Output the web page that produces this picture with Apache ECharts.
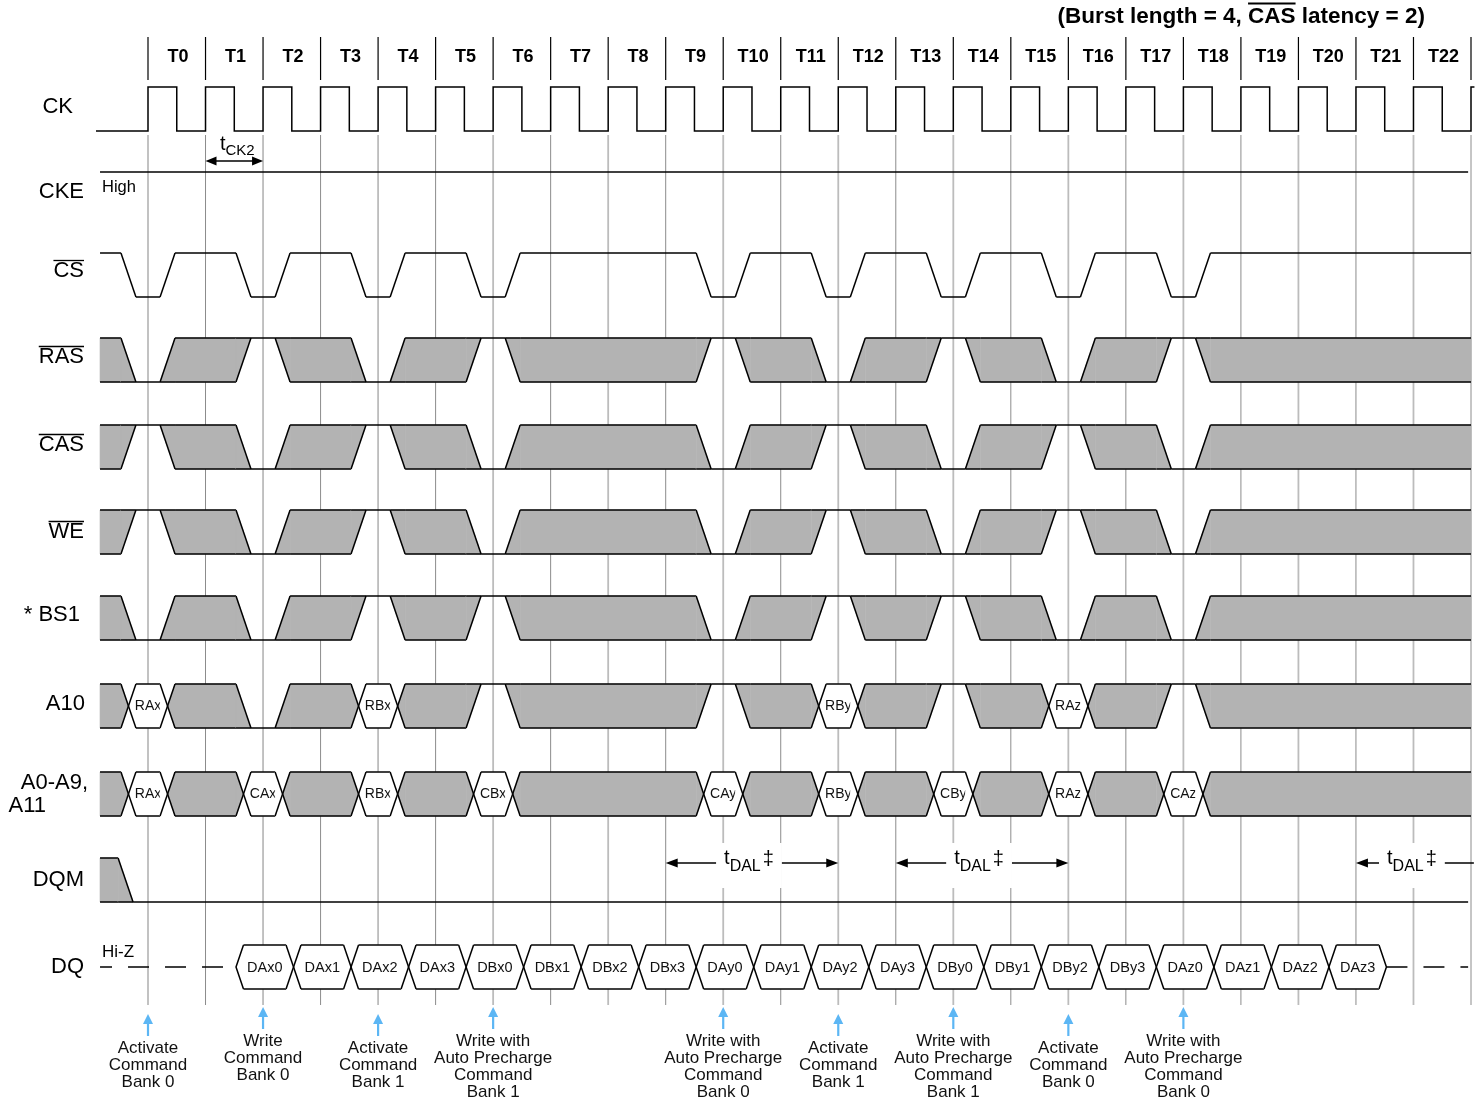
<!DOCTYPE html>
<html><head><meta charset="utf-8">
<script src="https://cdn.jsdelivr.net/npm/echarts/dist/echarts.min.js"></script>
<style>html,body{margin:0;padding:0;background:#fff}#c{width:1483px;height:1103px}</style>
</head><body><div id="c"></div>
<script>
// ===== DATA =====
const titleText = '(Burst length = 4, CAS latency = 2)';
const titleOverlined = 'CAS';
const clockLabels = ['T0','T1','T2','T3','T4','T5','T6','T7','T8','T9','T10','T11','T12','T13','T14','T15','T16','T17','T18','T19','T20','T21','T22'];
const clockEdges = [0,1,2,3,4,5,6,7,8,9,10,11,12,13,14,15,16,17,18,19,20,21,22,23];
const signalNames = ['CK','CKE','CS','RAS','CAS','WE','* BS1','A10','A0-A9,','A11','DQM','DQ'];
const overlinedNames = ['CS','RAS','CAS','WE'];
const ckeLevelText = 'High';
const dqIdleText = 'Hi-Z';
const commandEdges = [0, 2, 4, 6, 10, 12, 14, 16, 18];
const csAtCommand   = ['L','L','L','L','L','L','L','L','L'];
const rasAtCommand  = ['L','H','L','H','H','L','H','L','H'];
const casAtCommand  = ['H','L','H','L','L','H','L','H','L'];
const weAtCommand   = ['H','L','H','L','L','H','L','H','L'];
const bs1AtCommand  = ['L','L','H','H','L','H','H','L','L'];
const a10AtCommand  = ['RAx','L','RBx','H','H','RBy','H','RAz','H'];
const addrAtCommand = ['RAx','CAx','RBx','CBx','CAy','RBy','CBy','RAz','CAz'];
const dqStartEdge = 2;
const dqWords = ['DAx0','DAx1','DAx2','DAx3','DBx0','DBx1','DBx2','DBx3','DAy0','DAy1','DAy2','DAy3','DBy0','DBy1','DBy2','DBy3','DAz0','DAz1','DAz2','DAz3'];
const commandNotes = [
  'Activate\nCommand\nBank 0',
  'Write\nCommand\nBank 0',
  'Activate\nCommand\nBank 1',
  'Write with\nAuto Precharge\nCommand\nBank 1',
  'Write with\nAuto Precharge\nCommand\nBank 0',
  'Activate\nCommand\nBank 1',
  'Write with\nAuto Precharge\nCommand\nBank 1',
  'Activate\nCommand\nBank 0',
  'Write with\nAuto Precharge\nCommand\nBank 0'
];
const tdalFrom = [9, 13, 21];
const tdalTo   = [12, 16, null];
const tck2From = 1, tck2To = 2;

// ===== LAYOUT / STYLE =====
const FONT = '"Liberation Sans", Arial, Helvetica, sans-serif';
const GRAY = '#b3b3b3';
const BLUE = '#5cb6f4';
const LW = 1.5;
const HALF = 22;
const ROW = {CK:109, CKE:194, CS:275, RAS:360, CAS:447, WE:532, BS1:618, A10:706, ADDR:794, DQM:880, DQ:967};
const LABEL_POS = [[73,107],[84,192],[84,271],[84,357],[84,445],[84,532],[80,615],[85,704],[88,783],[46,806],[84,880],[84,967]];
const T_CK_START = -0.904, T_START = -0.834, T_END = 23.0, T_LINE_END = 22.95;
const CMD_HALF = 0.34, DQ_SHIFT = -0.47, DQM_SWITCH = -0.39, W = 0.26;

const mctx = document.createElement('canvas').getContext('2d');
function measure(text, font){ mctx.font = font; return mctx.measureText(text).width; }

// ===== SEGMENTS =====
function isLevel(v){ return v === 'H' || v === 'L'; }
function merge(segs){
  const out = [];
  segs.forEach(s => {
    if (s.t1 - s.t0 <= 1e-6) return;
    const last = out[out.length-1];
    if (last && last.s === s.s && s.s !== 'D') last.t1 = s.t1; else out.push(Object.assign({}, s));
  });
  return out;
}
function commandSegments(values, idle, fs){
  const segs = []; let t = T_START;
  commandEdges.forEach((k, i) => {
    const v = values[i];
    segs.push({s: idle, t0: t, t1: k - CMD_HALF});
    segs.push({s: isLevel(v) ? v : 'D', label: isLevel(v) ? '' : v, fs: fs, t0: k - CMD_HALF, t1: k + CMD_HALF});
    t = k + CMD_HALF;
  });
  segs.push({s: idle, t0: t, t1: T_END});
  return merge(segs);
}
function dqSegments(){
  const segs = [{s:'Z', t0:T_START, t1: dqStartEdge + DQ_SHIFT}];
  dqWords.forEach((w, i) => segs.push({s:'D', label:w, fs:14.5, t0: dqStartEdge + i + DQ_SHIFT, t1: dqStartEdge + i + 1 + DQ_SHIFT}));
  segs.push({s:'Z', t0: dqStartEdge + dqWords.length + DQ_SHIFT, t1: T_LINE_END});
  return segs;
}
const dqmSegments = [{s:'X', t0:T_START, t1:DQM_SWITCH}, {s:'L', t0:DQM_SWITCH, t1:T_LINE_END}];

function line(pts, extra){ return {type:'polyline', silent:true, shape:{points:pts}, style:Object.assign({stroke:'#000', lineWidth:LW, fill:'none'}, extra||{})}; }
function poly(pts, fill){ return {type:'polygon', silent:true, shape:{points:pts}, style:{fill:fill, stroke:fill, lineWidth:0.6}}; }
function txt(text, x, y, font, extra){
  return {type:'text', silent:true, style:Object.assign({text:text, x:x, y:y, font:font, fill:'#000', align:'center', verticalAlign:'middle', textAlign:'center', textVerticalAlign:'middle'}, extra||{})};
}

function renderSignal(segs){
  return function(params, api){
    const i = params.dataIndex, s = segs[i], prev = segs[i-1], next = segs[i+1];
    const yc = api.value(2);
    const X = t => api.coord([t, yc])[0];
    const yT = api.coord([0, yc - HALF])[1], yB = api.coord([0, yc + HALF])[1], yM = api.coord([0, yc])[1];
    const lv = v => v === 'H' ? yT : yB;
    const fillOf = v => v === 'X' ? GRAY : '#fff';
    const hw = (X(W) - X(0)) / 2;
    const fills = [], lines = [], texts = [];
    let xa = prev ? X(s.t0) + hw : X(s.t0);
    const xb = next ? X(s.t1) - hw : X(s.t1);
    if (s.s === 'Z' && prev) xa = X(s.t0);
    if (isLevel(s.s)) lines.push(line([[xa, lv(s.s)], [xb, lv(s.s)]]));
    else if (s.s === 'X' || s.s === 'D') {
      fills.push(poly([[xa,yT],[xb,yT],[xb,yB],[xa,yB]], fillOf(s.s)));
      lines.push(line([[xa,yT],[xb,yT]]), line([[xa,yB],[xb,yB]]));
      if (s.s === 'D') texts.push(txt(s.label, (X(s.t0) + X(s.t1)) / 2, yM + 0.5, s.fs + 'px ' + FONT, {fill:'#111'}));
    } else if (s.s === 'Z') {
      lines.push(line([[xa,yM],[xb,yM]], {lineDash:[21,16], lineDashOffset: prev ? 0 : 9}));
    }
    if (prev) {
      const a = prev.s, b = s.s, xm = X(s.t0), xl = xm - hw, xr = xm + hw;
      if (isLevel(a) && isLevel(b)) lines.push(line([[xl, lv(a)], [xr, lv(b)]]));
      else if (a === 'X' && isLevel(b)) {
        const yb = lv(b), yo = b === 'H' ? yB : yT;
        fills.push(poly([[xl,yT],[xl,yB],[xr,yb]], GRAY));
        lines.push(line([[xl,yb],[xr,yb]]), line([[xl,yo],[xr,yb]]));
      } else if (isLevel(a) && b === 'X') {
        const ya = lv(a), yo = a === 'H' ? yB : yT;
        fills.push(poly([[xr,yT],[xr,yB],[xl,ya]], GRAY));
        lines.push(line([[xl,ya],[xr,ya]]), line([[xl,ya],[xr,yo]]));
      } else if ((a === 'X' || a === 'D') && (b === 'X' || b === 'D')) {
        fills.push(poly([[xl,yT],[xm,yM],[xl,yB]], fillOf(a)), poly([[xr,yT],[xm,yM],[xr,yB]], fillOf(b)));
        lines.push(line([[xl,yT],[xr,yB]]), line([[xl,yB],[xr,yT]]));
      } else if (a === 'Z' && b === 'D') {
        fills.push(poly([[xm,yM],[xr,yT],[xr,yB]], '#fff'));
        lines.push(line([[xr,yT],[xm,yM],[xr,yB]]));
      } else if (a === 'D' && b === 'Z') {
        fills.push(poly([[xm,yM],[xl,yT],[xl,yB]], '#fff'));
        lines.push(line([[xl,yT],[xm,yM],[xl,yB]]));
      }
    }
    return {type:'group', children: fills.concat(lines, texts)};
  };
}
function signalSeries(segs, yc){
  return {type:'custom', coordinateSystem:'cartesian2d', clip:false, z:5, silent:true,
    data: segs.map(s => [s.t0, s.t1, yc]), renderItem: renderSignal(segs)};
}

const series = [];
// vertical clock grid lines
series.push({type:'custom', clip:false, z:1, silent:true, data: clockEdges.map(k => [k]),
  renderItem: (p, api) => {
    const x = api.coord([api.value(0), 0])[0];
    const even = p.dataIndex % 2 === 0;
    return {type:'line', silent:true, shape:{x1:x, y1:api.coord([0,135])[1], x2:x, y2:api.coord([0,1005])[1]},
      style:{stroke: even ? '#bcbcbc' : '#8c8c8c', lineWidth: even ? 1.8 : 1}};
  }});
// header: separators + T labels
series.push({type:'custom', clip:false, z:3, silent:true, data: clockEdges.map(k => [k]),
  renderItem: (p, api) => {
    const k = api.value(0), x = api.coord([k, 0])[0];
    const ch = [{type:'line', silent:true, shape:{x1:x, y1:api.coord([0,37])[1], x2:x, y2:api.coord([0,80])[1]}, style:{stroke:'#000', lineWidth:1.2}}];
    if (p.dataIndex < clockLabels.length) ch.push(txt(clockLabels[p.dataIndex], api.coord([k + 0.52, 0])[0], api.coord([0,57])[1], 'bold 18px ' + FONT));
    return {type:'group', children: ch};
  }});
// CK
series.push({type:'custom', clip:false, z:5, silent:true, data:[[0, ROW.CK]],
  renderItem: (p, api) => {
    const yc = ROW.CK, lo = yc + HALF, hi = yc - HALF;
    const pts = [[T_CK_START, lo]];
    clockEdges.forEach((k, i) => {
      pts.push([k, lo], [k, hi]);
      if (i < clockEdges.length - 1) pts.push([k + 0.5, hi], [k + 0.5, lo]); else pts.push([k + 0.06, hi]);
    });
    return line(pts.map(q => api.coord(q)));
  }});
// CKE
series.push({type:'custom', clip:false, z:5, silent:true, data:[[T_START, T_LINE_END, ROW.CKE]],
  renderItem: (p, api) => {
    const y = ROW.CKE - HALF;
    const a = api.coord([api.value(0), y]), b = api.coord([api.value(1), y]);
    return {type:'group', children:[line([a, b]),
      txt(ckeLevelText, a[0] + 2, api.coord([0, 187])[1], '16.5px ' + FONT, {align:'left', textAlign:'left'})]};
  }});
series.push(signalSeries(commandSegments(csAtCommand, 'H'), ROW.CS));
series.push(signalSeries(commandSegments(rasAtCommand, 'X'), ROW.RAS));
series.push(signalSeries(commandSegments(casAtCommand, 'X'), ROW.CAS));
series.push(signalSeries(commandSegments(weAtCommand, 'X'), ROW.WE));
series.push(signalSeries(commandSegments(bs1AtCommand, 'X'), ROW.BS1));
series.push(signalSeries(commandSegments(a10AtCommand, 'X', 14), ROW.A10));
series.push(signalSeries(commandSegments(addrAtCommand, 'X', 14), ROW.ADDR));
series.push(signalSeries(dqmSegments, ROW.DQM));
series.push(signalSeries(dqSegments(), ROW.DQ));
// Hi-Z label
series.push({type:'custom', clip:false, z:5, silent:true, data:[[T_START, 952]],
  renderItem: (p, api) => { const c = api.coord([api.value(0), api.value(1)]); return txt(dqIdleText, c[0] + 2, c[1], '17px ' + FONT, {align:'left', textAlign:'left'}); }});

function arrowHead(xTip, y, dir, len, half, color){
  return {type:'polygon', silent:true, shape:{points:[[xTip, y], [xTip - dir*len, y - half], [xTip - dir*len, y + half]]}, style:{fill: color || '#000'}};
}
// tCK2
series.push({type:'custom', clip:false, z:6, silent:true, data:[[tck2From, tck2To]],
  renderItem: (p, api) => {
    const y = api.coord([0, 161])[1];
    const x1 = api.coord([api.value(0), 0])[0], x2 = api.coord([api.value(1), 0])[0];
    const ft = '20px ' + FONT, fs = '15px ' + FONT;
    const wt = measure('t', ft), ws = measure('CK2', fs);
    const xs = (x1 + x2) / 2 + 3 - (wt + ws) / 2;
    return {type:'group', children:[
      line([[x1 + 8, y], [x2 - 8, y]]), arrowHead(x1, y, -1, 11, 4.5), arrowHead(x2, y, 1, 11, 4.5),
      txt('t', xs, api.coord([0, 144])[1], ft, {align:'left', textAlign:'left'}),
      txt('CK2', xs + wt, api.coord([0, 150.5])[1], fs, {align:'left', textAlign:'left'})]};
  }});
// tDAL
series.push({type:'custom', clip:false, z:7, silent:true, data: tdalFrom.map((f, i) => [f, tdalTo[i] === null ? T_END + 0.05 : tdalTo[i], tdalTo[i] === null ? 0 : 1]),
  renderItem: (p, api) => {
    const y = api.coord([0, 863])[1];
    const x1 = api.coord([api.value(0), 0])[0], x2 = api.coord([api.value(1), 0])[0];
    const closed = api.value(2) === 1;
    const ft = '20px ' + FONT, fs = '16px ' + FONT;
    const wt = measure('t', ft), ws = measure('DAL', fs), wd = measure('\u2021', ft);
    const total = wt + ws + 2 + wd;
    const xc = (x1 + x2) / 2 - 3;
    const xs = xc - total / 2;
    const ch = [line([[x1 + 8, y], [closed ? x2 - 8 : x2, y]]), arrowHead(x1, y, -1, 12, 4.5)];
    if (closed) ch.push(arrowHead(x2, y, 1, 12, 4.5));
    ch.push({type:'rect', silent:true, shape:{x: xs - 8, y: api.coord([0,843])[1], width: total + 16, height: 45}, style:{fill:'#fff'}});
    ch.push(txt('t', xs, api.coord([0, 858])[1], ft, {align:'left', textAlign:'left'}));
    ch.push(txt('DAL', xs + wt, api.coord([0, 867])[1], fs, {align:'left', textAlign:'left'}));
    ch.push(txt('\u2021', xs + wt + ws + 2, api.coord([0, 859])[1], ft, {align:'left', textAlign:'left'}));
    return {type:'group', children: ch};
  }});
// command notes
series.push({type:'custom', clip:false, z:6, silent:true, data: commandEdges.map(k => [k]),
  renderItem: (p, api) => {
    const note = commandNotes[p.dataIndex];
    const x = api.coord([api.value(0), 0])[0];
    const top = note.indexOf('Activate') === 0 ? 1040 : 1033;
    const yTop = api.coord([0, top])[1];
    const tip = yTop - 26;
    return {type:'group', children:[
      {type:'line', silent:true, shape:{x1:x, y1:tip + 8, x2:x, y2:yTop - 4}, style:{stroke:BLUE, lineWidth:2.2}},
      {type:'polygon', silent:true, shape:{points:[[x, tip], [x - 5, tip + 10], [x + 5, tip + 10]]}, style:{fill:BLUE}},
      txt(note, x, yTop, '17px ' + FONT, {verticalAlign:'top', textVerticalAlign:'top', lineHeight:17, fill:'#111'})]};
  }});

// left labels + title (graphic)
const graphics = [];
signalNames.forEach((name, i) => {
  const pos = LABEL_POS[i];
  const f = '22px ' + FONT;
  graphics.push({type:'text', silent:true, x:pos[0], y:pos[1], style:{text:name, font:f, fill:'#000', align:'right', verticalAlign:'middle', textAlign:'right', textVerticalAlign:'middle'}});
  if (overlinedNames.indexOf(name) >= 0) {
    const w = measure(name, f);
    graphics.push({type:'line', silent:true, shape:{x1:pos[0] - w, y1:pos[1] - 10.5, x2:pos[0], y2:pos[1] - 10.5}, style:{stroke:'#000', lineWidth:1.3}});
  }
});
(function(){
  const f = 'bold 22.5px ' + FONT, right = 1425;
  const wAll = measure(titleText, f);
  const idx = titleText.indexOf(titleOverlined);
  const x0 = right - wAll + measure(titleText.slice(0, idx), f);
  const w = measure(titleOverlined, f);
  graphics.push({type:'text', silent:true, x:right, y:17, style:{text:titleText, font:f, fill:'#000', align:'right', verticalAlign:'middle', textAlign:'right', textVerticalAlign:'middle'}});
  graphics.push({type:'line', silent:true, shape:{x1:x0, y1:3.5, x2:x0 + w, y2:3.5}, style:{stroke:'#000', lineWidth:1.8}});
})();

const chart = echarts.init(document.getElementById('c'), null, {renderer:'canvas'});
chart.setOption({
  animation:false,
  backgroundColor:'#fff',
  grid:{left:148, right:12, top:0, bottom:0, containLabel:false},
  xAxis:{type:'value', min:0, max:23, show:false},
  yAxis:{type:'value', min:0, max:1103, inverse:true, show:false},
  graphic:{elements:graphics},
  series:series
});
</script></body></html>
